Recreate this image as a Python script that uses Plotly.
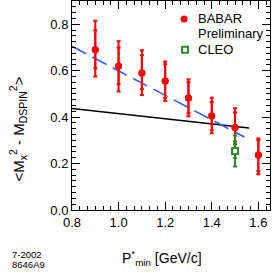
import plotly.graph_objects as go

# BABAR data
babar_x = [0.9, 1.0, 1.1, 1.2, 1.3, 1.4, 1.5, 1.6]
babar_y = [0.69, 0.62, 0.59, 0.555, 0.482, 0.405, 0.355, 0.237]
babar_tot_plus = [0.125, 0.107, 0.098, 0.085, 0.081, 0.078, 0.083, 0.071]
babar_tot_minus = [0.115, 0.11, 0.095, 0.086, 0.078, 0.075, 0.073, 0.083]
babar_stat_plus = [0.084, 0.08, 0.077, 0.073, 0.068, 0.06, 0.065, 0.063]
babar_stat_minus = [0.08, 0.078, 0.07, 0.073, 0.065, 0.062, 0.06, 0.07]

# CLEO data
cleo_x = [1.5]
cleo_y = [0.254]
cleo_tot = [0.067]
cleo_stat = [0.03]

# Lines
fit_x = [0.8, 1.54]
fit_y = [0.705, 0.314]
theory_x = [0.8, 1.56]
theory_y = [0.437, 0.353]

x_ticks = [0.8, 1.0, 1.2, 1.4, 1.6]
y_ticks = [0.0, 0.2, 0.4, 0.6, 0.8]

RED = "#ff0000"
GREEN = "#2a8a2a"
BLUE = "#2f5cff"
FONT = "Liberation Sans, Arial, sans-serif"

fig = go.Figure()

fig.add_trace(go.Scatter(x=theory_x, y=theory_y, mode="lines",
                         line=dict(color="black", width=1.6), showlegend=False))
fig.add_trace(go.Scatter(x=fit_x, y=fit_y, mode="lines",
                         line=dict(color=BLUE, width=1.6, dash="16px,7px"), showlegend=False))

# BABAR total errors
fig.add_trace(go.Scatter(x=babar_x, y=babar_y, mode="markers",
                         marker=dict(color=RED, size=7),
                         error_y=dict(type="data", symmetric=False, array=babar_tot_plus,
                                      arrayminus=babar_tot_minus, color=RED, thickness=2, width=2),
                         showlegend=False))
# BABAR stat errors (inner caps)
fig.add_trace(go.Scatter(x=babar_x, y=babar_y, mode="markers",
                         marker=dict(color=RED, size=7),
                         error_y=dict(type="data", symmetric=False, array=babar_stat_plus,
                                      arrayminus=babar_stat_minus, color=RED, thickness=2, width=2),
                         showlegend=False))

# CLEO
fig.add_trace(go.Scatter(x=cleo_x, y=cleo_y, mode="markers",
                         marker=dict(color="white", size=6, symbol="square-open",
                                     line=dict(color=GREEN, width=2)),
                         error_y=dict(type="data", array=cleo_tot, color=GREEN, thickness=2, width=2),
                         showlegend=False))
fig.add_trace(go.Scatter(x=cleo_x, y=cleo_y, mode="markers",
                         marker=dict(color="white", size=6, symbol="square",
                                     line=dict(color=GREEN, width=2)),
                         error_y=dict(type="data", array=cleo_stat, color=GREEN, thickness=2, width=2),
                         showlegend=False))

# Legend (manual)
fig.add_shape(type="circle", xref="paper", yref="paper", xsizemode="pixel", ysizemode="pixel",
              xanchor=0.566, yanchor=0.914, x0=-3.5, x1=3.5, y0=-3.5, y1=3.5,
              fillcolor=RED, line=dict(color=RED, width=0))
fig.add_shape(type="rect", xref="paper", yref="paper", xsizemode="pixel", ysizemode="pixel",
              xanchor=0.571, yanchor=0.767, x0=-3, x1=3, y0=-3, y1=3,
              fillcolor="white", line=dict(color=GREEN, width=2))

ann_font = dict(family=FONT, size=13, color="black")
fig.add_annotation(text="BABAR", xref="paper", yref="paper", x=0.625, y=0.914,
                   xanchor="left", yanchor="middle", showarrow=False, font=ann_font)
fig.add_annotation(text="Preliminary", xref="paper", yref="paper", x=0.625, y=0.843,
                   xanchor="left", yanchor="middle", showarrow=False, font=ann_font)
fig.add_annotation(text="CLEO", xref="paper", yref="paper", x=0.625, y=0.767,
                   xanchor="left", yanchor="middle", showarrow=False, font=ann_font)

# Axis titles
fig.add_annotation(text="&lt;M<sub>x</sub><sup>2</sup> - M<sub>DSPIN</sub><sup>2</sup>&gt;",
                   xref="paper", yref="paper", x=-0.273, y=0.39, textangle=-90,
                   xanchor="center", yanchor="middle", showarrow=False,
                   font=dict(family=FONT, size=15, color="black"))
fig.add_annotation(text="P<sup>*</sup><sub>min</sub> [GeV/c]",
                   xref="paper", yref="paper", x=0.455, y=-0.229,
                   xanchor="center", yanchor="middle", showarrow=False,
                   font=dict(family=FONT, size=14, color="black"))
small = dict(family=FONT, size=9.5, color="black")
fig.add_annotation(text="7-2002", xref="paper", yref="paper", x=-0.313, y=-0.212,
                   xanchor="left", yanchor="middle", showarrow=False, font=small)
fig.add_annotation(text="8646A9", xref="paper", yref="paper", x=-0.313, y=-0.262,
                   xanchor="left", yanchor="middle", showarrow=False, font=small)

axis_common = dict(showline=True, linecolor="black", linewidth=1, mirror="ticks",
                   ticks="inside", ticklen=8, tickwidth=1, tickcolor="black",
                   showgrid=False, zeroline=False,
                   tickfont=dict(family=FONT, size=13, color="black"))

fig.update_xaxes(range=[0.8, 1.65], tickvals=x_ticks, tickformat=".1f",
                 minor=dict(ticks="inside", dtick=0.2 / 6, tick0=0.8, ticklen=4, tickcolor="black"),
                 **axis_common)
fig.update_yaxes(range=[0.0, 0.9], tickvals=y_ticks, tickformat=".1f",
                 minor=dict(ticks="inside", dtick=0.025, tick0=0.0, ticklen=4, tickcolor="black"),
                 **axis_common)

fig.update_layout(width=274, height=273, margin=dict(l=72, r=4, t=1, b=63),
                  paper_bgcolor="white", plot_bgcolor="white", showlegend=False)

fig.write_html("out.html", config={"displayModeBar": False},
               post_script="document.body.style.margin='0';document.body.style.overflow='hidden';")
